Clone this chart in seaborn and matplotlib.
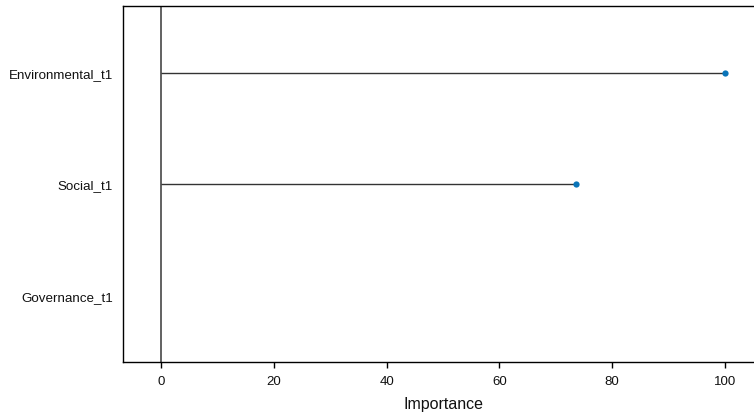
import numpy as np
import pandas as pd
import matplotlib
matplotlib.use("Agg")
import matplotlib.pyplot as plt
import seaborn as sns

# Variable importance (scaled 0-100)
features = ["Environmental_t1", "Social_t1", "Governance_t1"]
importance = [100.0, 73.5, np.nan]
x_ticks = [0, 20, 40, 60, 80, 100]

df = pd.DataFrame({"feature": features, "importance": importance})

sns.set_style("white")
plt.rcParams["font.family"] = ["Liberation Sans", "DejaVu Sans"]

W, H = 754, 414
fig = plt.figure(figsize=(W / 100, H / 100), dpi=100)

# panel box; its right part runs past the canvas edge
left_px, zero_px, hundred_px = 123.3, 161.0, 725.0
unit = (hundred_px - zero_px) / 100
x0 = -(zero_px - left_px) / unit
x1 = 107
right_px = zero_px + x1 * unit
top_px, bottom_px = 7, 363
ax = fig.add_axes([left_px / W, 1 - bottom_px / H,
                   (right_px - left_px) / W, (bottom_px - top_px) / H])

# reference line at zero
ax.axvline(0, color="#555555", lw=1.3, zorder=1)

# lollipop stems
ypos = np.arange(len(features))
vals = df["importance"].to_numpy()
ok = ~np.isnan(vals)
ax.hlines(ypos[ok], 0, vals[ok], color="#333333", lw=1.0, zorder=2)

sns.stripplot(data=df, x="importance", y="feature", order=features,
              orient="h", jitter=False, color="#0A74B8", size=4.5,
              linewidth=0, ax=ax, zorder=3)

ax.set_xlim(x0, x1)
ax.set_ylim(len(features) - 0.4, -0.6)
ax.set_xticks(x_ticks)
ax.set_xticklabels([str(t) for t in x_ticks])
ax.set_xlabel("Importance", fontsize=11.5, labelpad=6.5, color="#111111")
ax.set_ylabel("")
ax.tick_params(axis="x", length=4.3, width=1, direction="out",
               labelsize=9.5, pad=5, bottom=True, color="#000000",
               labelcolor="#111111")
ax.tick_params(axis="y", length=0, labelsize=9.6, pad=7.4,
               labelcolor="#111111")
for s in ax.spines.values():
    s.set_color("#000000")
    s.set_linewidth(1.0)

fig.savefig("out.png", dpi=100)
